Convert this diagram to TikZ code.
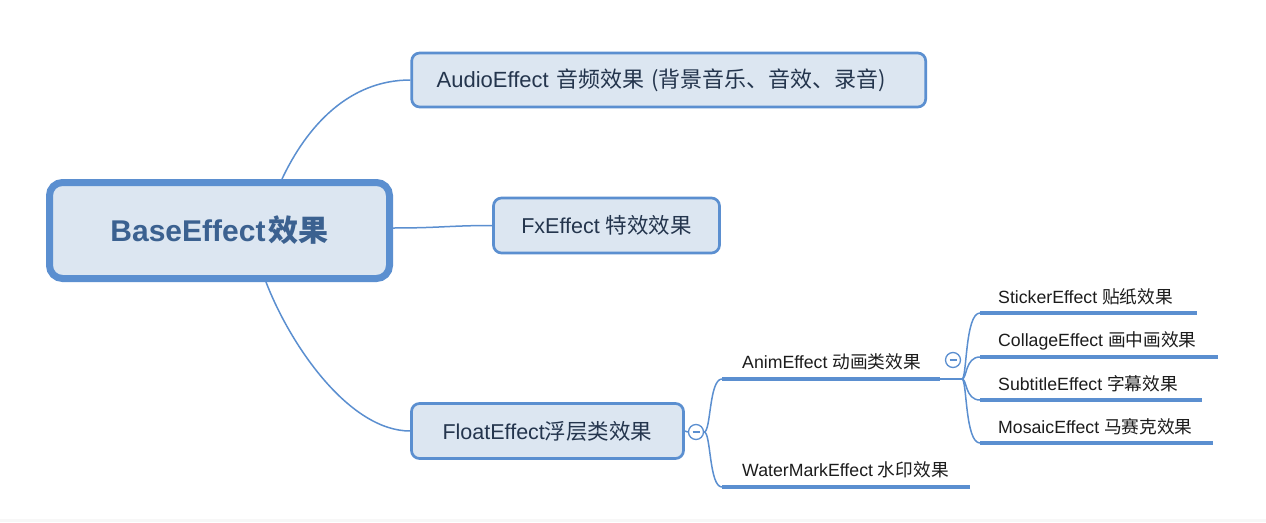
\documentclass[tikz,border=0pt]{standalone}
\usepackage{fontspec}
\setmainfont{Liberation Sans}
\newfontfamily\cjk{Noto Sans CJK SC}
\definecolor{lineblue}{RGB}{91,143,208}
\definecolor{fillblue}{RGB}{220,230,241}
\definecolor{roottext}{RGB}{59,97,144}
\definecolor{topictext}{RGB}{36,53,77}
\definecolor{leaftext}{RGB}{28,28,28}
\tikzset{
  conn/.style={draw=lineblue, line width=1.5pt},
  uline/.style={draw=lineblue, line width=4pt},
  rootbox/.style={draw=lineblue, line width=7pt, fill=fillblue, rounded corners=13pt,
    text=roottext, font=\fontsize{30}{34}\selectfont\bfseries, inner sep=0pt},
  topicbox/.style={draw=lineblue, line width=2.7pt, fill=fillblue, rounded corners=8pt,
    text=topictext, font=\fontsize{21.5}{26}\selectfont, inner sep=0pt},
  leaf/.style={text=leaftext, font=\fontsize{17.7}{21}\selectfont, anchor=west, inner sep=0pt},
  toggle/.style={circle, draw=lineblue, line width=1.3pt, fill=white, minimum size=15pt, inner sep=0pt,
    path picture={\draw[lineblue, line width=1.3pt]
      ([xshift=-3.5pt]path picture bounding box.center) -- ([xshift=3.5pt]path picture bounding box.center);}}
}
\begin{document}
\begin{tikzpicture}[x=1pt,y=-1pt]
\useasboundingbox (0,0) rectangle (1266,522);
\fill[white] (0,0) rectangle (1266,522);
\fill[black!3] (0,519) rectangle (1266,522);

% main nodes
\node[rootbox, minimum width=340pt, minimum height=96pt] (root) at (219.5,230.5)
  {BaseEffect\hspace{3pt}{\cjk\bfseries 效果}};
\node[topicbox, minimum width=514pt, minimum height=54pt, text width=464pt, align=left,
  font=\fontsize{22}{26}\selectfont] (audio) at (668.7,80)
  {AudioEffect {\cjk 音频效果 (背景音乐、音效、录音)}};
\node[topicbox, minimum width=226pt, minimum height=55pt] (fx) at (606.5,225.5)
  {FxEffect {\cjk 特效效果}};
\node[topicbox, minimum width=272pt, minimum height=55pt] (float) at (547.5,431)
  {FloatEffect{\cjk 浮层类效果}};

% toggles
\node[toggle] (t1) at (696,432) {};
\node[toggle] (t2) at (953,360) {};

% root connectors
\draw[conn] ([xshift=62.5pt]root.north) .. controls (307,126) and (349,80) .. (audio.west);
\draw[conn] ([yshift=2.5pt]root.east) .. controls (440,228) and (450,225.5) .. (fx.west);
\draw[conn] ([xshift=46.5pt]root.south) .. controls (291,347) and (350,431) .. (float.west);
\draw[conn] (float.east) -- (t1.west);

% leaf anchors
\coordinate (animS) at (722,379); \coordinate (animE) at (940,379);
\coordinate (wmS) at (722,487);   \coordinate (wmE) at (970,487);
\coordinate (stS) at (980,313);   \coordinate (stE) at (1197,313);
\coordinate (coS) at (980,357);   \coordinate (coE) at (1218,357);
\coordinate (suS) at (980,400);   \coordinate (suE) at (1202,400);
\coordinate (moS) at (980,443);   \coordinate (moE) at (1213,443);
\coordinate (fork) at (962,379);

% leaf texts
\node[leaf] (anim) at (742,362) {AnimEffect {\cjk 动画类效果}};
\node[leaf] (wm) at (742,470) {WaterMarkEffect {\cjk 水印效果}};
\node[leaf] (st) at (998,297) {StickerEffect {\cjk 贴纸效果}};
\node[leaf] (co) at (998,341) {CollageEffect {\cjk 画中画效果}};
\node[leaf] (su) at (998,384) {SubtitleEffect {\cjk 字幕效果}};
\node[leaf] (mo) at (998,427) {MosaicEffect {\cjk 马赛克效果}};

% float branches
\draw[conn] (t1.east) .. controls (711,432) and (709,379) .. (animS);
\draw[conn] (t1.east) .. controls (711,432) and (709,487) .. (wmS);
\draw[conn] (animE) -- (fork);
\draw[conn] (fork) .. controls (967,379) and (965,313) .. (stS);
\draw[conn] (fork) .. controls (967,379) and (965,357) .. (coS);
\draw[conn] (fork) .. controls (967,379) and (965,400) .. (suS);
\draw[conn] (fork) .. controls (967,379) and (965,443) .. (moS);

% underlines
\draw[uline] (animS) -- (animE);
\draw[uline] (wmS) -- (wmE);
\draw[uline] (stS) -- (stE);
\draw[uline] (coS) -- (coE);
\draw[uline] (suS) -- (suE);
\draw[uline] (moS) -- (moE);
\end{tikzpicture}
\end{document}
